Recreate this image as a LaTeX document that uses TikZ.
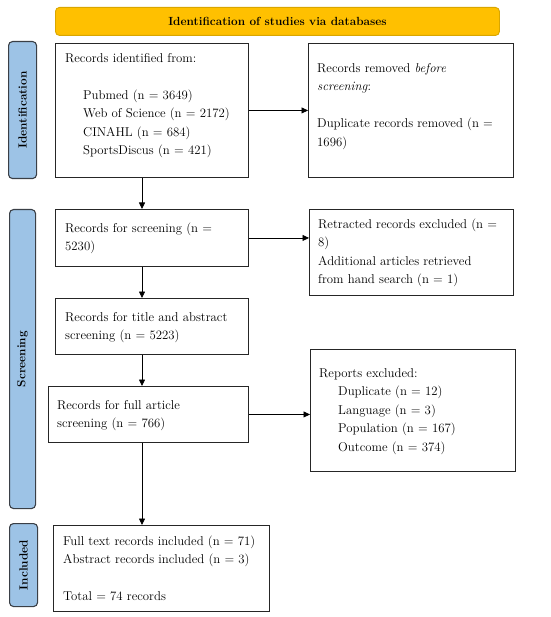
\documentclass[tikz,border=0pt]{standalone}
\usetikzlibrary{arrows.meta,calc}
\definecolor{hdrfill}{HTML}{FFC000}
\definecolor{hdrline}{HTML}{D9A600}
\definecolor{barfill}{HTML}{9DC3E6}
\definecolor{barline}{HTML}{3A3F46}
\begin{document}
\begin{tikzpicture}[x=1pt,y=-1pt,
  box/.style={draw=black!85,line width=0.9pt,fill=white,inner sep=0pt,anchor=north west},
  hdr/.style={draw=hdrline,line width=0.9pt,fill=hdrfill,rounded corners=4pt,inner sep=0pt,anchor=north west},
  sidebar/.style={draw=barline,line width=1.1pt,fill=barfill,rounded corners=4pt,inner sep=0pt,anchor=north west},
  txt/.style={inner sep=0pt,anchor=north west,align=left,font=\fontsize{12.8}{18.5}\selectfont},
  bartxt/.style={inner sep=0pt,rotate=90,font=\fontsize{11.8}{14}\selectfont\bfseries},
  arr/.style={draw=black,line width=0.8pt,-{Triangle[length=6.5pt,width=6pt]}}
]
\useasboundingbox (0,0) rectangle (550,617);
% header
\node[hdr,minimum width=444pt,minimum height=28pt] (hd) at (55,7) {};
\node[inner sep=0pt,font=\fontsize{11.8}{14}\selectfont\bfseries] (hdt) at (hd.center) {Identification of studies via databases};
% side bars
\node[sidebar,minimum width=28pt,minimum height=137pt] (sid) at (8,41) {};
\node[bartxt] (sidt) at (sid.center) {Identification};
\node[sidebar,minimum width=26pt,minimum height=299pt] (ssc) at (9,209) {};
\node[bartxt] (ssct) at (ssc.center) {Screening};
\node[sidebar,minimum width=28pt,minimum height=83pt] (sin) at (9,523) {};
\node[bartxt] (sint) at (sin.center) {Included};
% boxes
\node[box,minimum width=193pt,minimum height=134pt] (b1) at (55,43) {};
\node[box,minimum width=205pt,minimum height=134pt] (b2) at (308,43) {};
\node[box,minimum width=193pt,minimum height=57pt] (b3) at (55,209) {};
\node[box,minimum width=204pt,minimum height=86pt] (b4) at (309,209) {};
\node[box,minimum width=193pt,minimum height=56pt] (b5) at (55,298) {};
\node[box,minimum width=205pt,minimum height=122pt] (b6) at (310,349) {};
\node[box,minimum width=200pt,minimum height=56pt] (b7) at (48,386) {};
\node[box,minimum width=216pt,minimum height=86pt] (b8) at (53,525) {};
% texts (first baseline - 12.95)
\node[txt] (t1) at (65,49) {\strut Records identified from:\\[18.5pt]
\hspace*{18pt}Pubmed (n = 3649)\\
\hspace*{18pt}Web of Science (n = 2172)\\
\hspace*{18pt}CINAHL (n = 684)\\
\hspace*{18pt}SportsDiscus (n = 421)};
\node[txt] (t2) at (317,59) {\strut Records removed \emph{before}\\
\emph{screening}:\\[18.5pt]
Duplicate records removed (n =\\
1696)};
\node[txt] (t3) at (65,219) {\strut Records for screening (n =\\
5230)};
\node[txt] (t4) at (318,215) {\strut Retracted records excluded (n =\\
8)\\
Additional articles retrieved\\
from hand search (n = 1)};
\node[txt] (t5) at (65,308) {\strut Records for title and abstract\\
screening (n = 5223)};
\node[txt] (t6) at (319,364) {\strut Reports excluded:\\
\hspace*{19pt}Duplicate (n = 12)\\
\hspace*{19pt}Language (n = 3)\\
\hspace*{19pt}Population (n = 167)\\
\hspace*{19pt}Outcome (n = 374)};
\node[txt] (t7) at (57,396) {\strut Records for full article\\
screening (n = 766)};
\node[txt] (t8) at (63,532) {\strut Full text records included (n = 71)\\
Abstract records included (n = 3)\\[18.5pt]
Total = 74 records};
% connectors
\coordinate (cx) at (142,0);
\draw[arr] (b1.east) -- (b2.west);
\draw[arr] (b3.east) -- (b3.east -| b4.west);
\draw[arr] (b7.east) -- (b7.east -| b6.west);
\draw[arr] (b1.south -| cx) -- (b3.north -| cx);
\draw[arr] (b3.south -| cx) -- (b5.north -| cx);
\draw[arr] (b5.south -| cx) -- (b7.north -| cx);
\draw[arr] (b7.south -| cx) -- (b8.north -| cx);
\end{tikzpicture}
\end{document}
